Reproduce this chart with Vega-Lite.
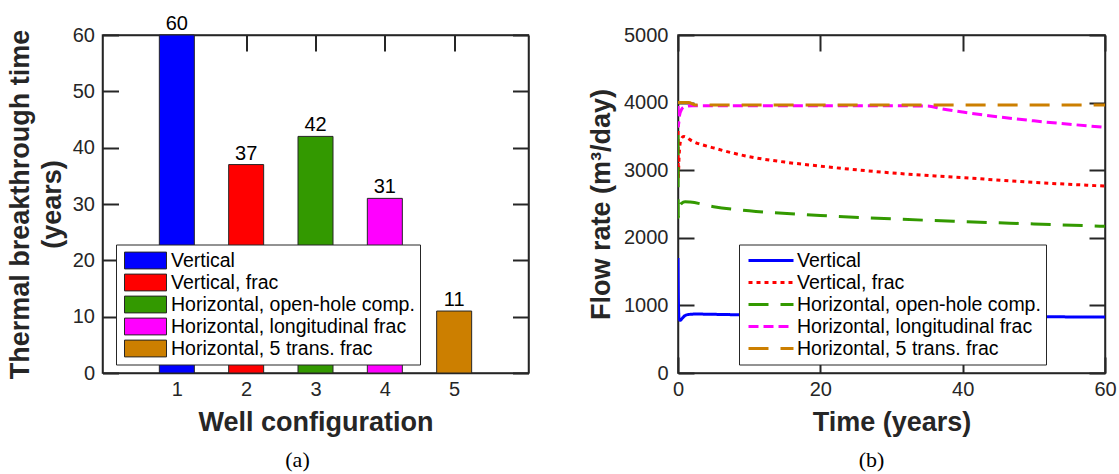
{
  "$schema": "https://vega.github.io/schema/vega-lite/v6.json",
  "padding": {"left": 5.5, "top": 13, "right": 5, "bottom": 0},
  "background": "white",
  "config": {
    "view": {"stroke": "#262626", "strokeWidth": 1.5},
    "font": "Liberation Sans",
    "axis": {"grid": false, "domainColor": "#262626", "domainWidth": 1.5, "labelFont": "Liberation Sans", "labelFontSize": 20, "labelColor": "#262626", "titleFont": "Liberation Sans", "titleFontSize": 27, "titleFontWeight": "bold", "titleColor": "#262626", "labelFlush": false, "labelOverlap": false, "format": "d"},
    "legend": {"labelFont": "Liberation Sans", "labelFontSize": 19.5, "labelColor": "black", "labelLimit": 400, "padding": 5, "strokeColor": "#262626", "fillColor": "white", "rowPadding": 0, "clipHeight": 22},
    "title": {"font": "Liberation Serif", "fontSize": 22, "fontWeight": "normal", "color": "black"}
  },
  "datasets": {
    "bars": [
      {"well": 1, "time": 60, "config": "Vertical"},
      {"well": 2, "time": 37, "config": "Vertical, frac"},
      {"well": 3, "time": 42, "config": "Horizontal, open-hole comp."},
      {"well": 4, "time": 31, "config": "Horizontal, longitudinal frac"},
      {"well": 5, "time": 11, "config": "Horizontal, 5 trans. frac"}
    ],
    "flow": [
      {"series": "Vertical", "t": 0, "q": 1700},
      {"series": "Vertical", "t": 0.05, "q": 1100},
      {"series": "Vertical", "t": 0.15, "q": 800},
      {"series": "Vertical", "t": 0.3, "q": 780},
      {"series": "Vertical", "t": 0.6, "q": 810},
      {"series": "Vertical", "t": 1, "q": 850},
      {"series": "Vertical", "t": 1.5, "q": 866},
      {"series": "Vertical", "t": 2.5, "q": 872},
      {"series": "Vertical", "t": 5, "q": 868},
      {"series": "Vertical", "t": 10, "q": 858},
      {"series": "Vertical", "t": 20, "q": 848},
      {"series": "Vertical", "t": 30, "q": 842},
      {"series": "Vertical", "t": 40, "q": 836},
      {"series": "Vertical", "t": 50, "q": 832},
      {"series": "Vertical", "t": 60, "q": 828},
      {"series": "Vertical, frac", "t": 0, "q": 3700},
      {"series": "Vertical, frac", "t": 0.03, "q": 2880},
      {"series": "Vertical, frac", "t": 0.15, "q": 3200},
      {"series": "Vertical, frac", "t": 0.4, "q": 3450},
      {"series": "Vertical, frac", "t": 0.8, "q": 3500},
      {"series": "Vertical, frac", "t": 2, "q": 3430},
      {"series": "Vertical, frac", "t": 5, "q": 3330},
      {"series": "Vertical, frac", "t": 10, "q": 3200},
      {"series": "Vertical, frac", "t": 15, "q": 3120},
      {"series": "Vertical, frac", "t": 20, "q": 3060},
      {"series": "Vertical, frac", "t": 30, "q": 2960},
      {"series": "Vertical, frac", "t": 40, "q": 2890},
      {"series": "Vertical, frac", "t": 50, "q": 2820},
      {"series": "Vertical, frac", "t": 60, "q": 2765},
      {"series": "Horizontal, open-hole comp.", "t": 0, "q": 3520},
      {"series": "Horizontal, open-hole comp.", "t": 0.03, "q": 2300},
      {"series": "Horizontal, open-hole comp.", "t": 0.2, "q": 2450},
      {"series": "Horizontal, open-hole comp.", "t": 0.5, "q": 2510},
      {"series": "Horizontal, open-hole comp.", "t": 1, "q": 2535},
      {"series": "Horizontal, open-hole comp.", "t": 1.7, "q": 2530},
      {"series": "Horizontal, open-hole comp.", "t": 5, "q": 2460},
      {"series": "Horizontal, open-hole comp.", "t": 10, "q": 2400},
      {"series": "Horizontal, open-hole comp.", "t": 20, "q": 2330},
      {"series": "Horizontal, open-hole comp.", "t": 30, "q": 2280},
      {"series": "Horizontal, open-hole comp.", "t": 40, "q": 2240},
      {"series": "Horizontal, open-hole comp.", "t": 50, "q": 2205},
      {"series": "Horizontal, open-hole comp.", "t": 60, "q": 2170},
      {"series": "Horizontal, longitudinal frac", "t": 0, "q": 3950},
      {"series": "Horizontal, longitudinal frac", "t": 0.05, "q": 3650},
      {"series": "Horizontal, longitudinal frac", "t": 0.2, "q": 3800},
      {"series": "Horizontal, longitudinal frac", "t": 0.5, "q": 3900},
      {"series": "Horizontal, longitudinal frac", "t": 1, "q": 3940},
      {"series": "Horizontal, longitudinal frac", "t": 2, "q": 3955},
      {"series": "Horizontal, longitudinal frac", "t": 20, "q": 3955},
      {"series": "Horizontal, longitudinal frac", "t": 35, "q": 3950},
      {"series": "Horizontal, longitudinal frac", "t": 37, "q": 3910},
      {"series": "Horizontal, longitudinal frac", "t": 40, "q": 3860},
      {"series": "Horizontal, longitudinal frac", "t": 45, "q": 3790},
      {"series": "Horizontal, longitudinal frac", "t": 50, "q": 3730},
      {"series": "Horizontal, longitudinal frac", "t": 55, "q": 3680},
      {"series": "Horizontal, longitudinal frac", "t": 60, "q": 3635},
      {"series": "Horizontal, 5 trans. frac", "t": 0, "q": 4000},
      {"series": "Horizontal, 5 trans. frac", "t": 1.5, "q": 4000},
      {"series": "Horizontal, 5 trans. frac", "t": 2.5, "q": 3965},
      {"series": "Horizontal, 5 trans. frac", "t": 30, "q": 3965},
      {"series": "Horizontal, 5 trans. frac", "t": 60, "q": 3965}
    ]
  },
  "spacing": 55.5,
  "resolve": {"scale": {"color": "independent", "strokeDash": "independent"}, "legend": {"color": "independent", "strokeDash": "independent"}},
  "hconcat": [
    {
      "width": 426,
      "height": 338,
      "title": {"text": "(a)", "orient": "bottom", "anchor": "middle", "frame": "group", "dx": -18, "offset": 15},
      "data": {"name": "bars"},
      "layer": [
        {
          "mark": {"type": "bar", "size": 35, "stroke": "#262626", "strokeWidth": 1},
          "encoding": {
            "x": {"field": "well", "type": "quantitative", "scale": {"domain": [0, 6], "nice": false}, "axis": {"orient": "bottom", "values": [1, 2, 3, 4, 5], "title": "Well configuration", "titlePadding": 10, "tickSize": -16, "tickColor": "#262626", "tickWidth": 2, "labelPadding": 22}},
            "y": {"field": "time", "type": "quantitative", "scale": {"domain": [0, 60], "nice": false}, "axis": {"orient": "left", "values": [0, 10, 20, 30, 40, 50, 60], "title": ["Thermal breakthrough time", "(years)"], "titlePadding": 6, "titleLineHeight": 32, "tickSize": -16, "tickColor": "#262626", "tickWidth": 2, "labelPadding": 24}},
            "color": {
              "field": "config", "type": "nominal",
              "scale": {"domain": ["Vertical", "Vertical, frac", "Horizontal, open-hole comp.", "Horizontal, longitudinal frac", "Horizontal, 5 trans. frac"], "range": ["#0000FF", "#FF0000", "#339900", "#FF00FF", "#CC7F00"]},
              "legend": {"title": null, "orient": "none", "legendX": 13.5, "legendY": 209.5, "direction": "vertical", "symbolType": "M-1,-0.4H1V0.4H-1Z", "symbolSize": 1764, "symbolStrokeColor": "#262626", "symbolStrokeWidth": 1, "symbolOpacity": 1, "labelOffset": 4, "symbolOffset": 3}
            }
          }
        },
        {
          "mark": {"type": "text", "baseline": "bottom", "dy": -1, "fontSize": 20, "color": "black"},
          "encoding": {
            "x": {"field": "well", "type": "quantitative", "axis": {"orient": "top", "labels": false, "title": null, "values": [1, 2, 3, 4, 5], "tickSize": -16, "tickColor": "#262626", "tickWidth": 2}},
            "y": {"field": "time", "type": "quantitative", "axis": {"orient": "right", "labels": false, "title": null, "values": [0, 10, 20, 30, 40, 50, 60], "tickSize": -16, "tickColor": "#262626", "tickWidth": 2}},
            "text": {"field": "time", "type": "quantitative"}
          }
        }
      ],
      "resolve": {"axis": {"x": "independent", "y": "independent"}}
    },
    {
      "width": 427,
      "height": 338,
      "title": {"text": "(b)", "orient": "bottom", "anchor": "middle", "frame": "group", "dx": -20, "offset": 15},
      "data": {"name": "flow"},
      "layer": [
        {
          "mark": {"type": "line", "strokeWidth": 3, "interpolate": "monotone", "clip": true},
          "encoding": {
            "x": {"field": "t", "type": "quantitative", "scale": {"domain": [0, 60], "nice": false}, "axis": {"orient": "bottom", "values": [0, 20, 40, 60], "title": "Time (years)", "titlePadding": 10, "tickSize": -16, "tickColor": "#262626", "tickWidth": 2, "labelPadding": 22}},
            "y": {"field": "q", "type": "quantitative", "scale": {"domain": [0, 5000], "nice": false}, "axis": {"orient": "left", "values": [0, 1000, 2000, 3000, 4000, 5000], "title": "Flow rate (m³/day)", "titlePadding": 8, "tickSize": -16, "tickColor": "#262626", "tickWidth": 2, "labelPadding": 26}},
            "color": {
              "field": "series", "type": "nominal",
              "scale": {"domain": ["Vertical", "Vertical, frac", "Horizontal, open-hole comp.", "Horizontal, longitudinal frac", "Horizontal, 5 trans. frac"], "range": ["#0000FF", "#FF0000", "#339900", "#FF00FF", "#CC7F00"]},
              "legend": {"title": null, "orient": "none", "legendX": 61, "legendY": 209.5, "direction": "vertical", "symbolType": "stroke", "symbolSize": 2025, "symbolStrokeWidth": 3, "labelOffset": 2, "symbolOffset": 3}
            },
            "strokeDash": {
              "field": "series", "type": "nominal",
              "scale": {"domain": ["Vertical", "Vertical, frac", "Horizontal, open-hole comp.", "Horizontal, longitudinal frac", "Horizontal, 5 trans. frac"], "range": [[1, 0], [4, 4], [20, 12], [10, 5], [20, 12]]},
              "legend": {"title": null, "orient": "none", "legendX": 61, "legendY": 209.5, "direction": "vertical", "symbolType": "stroke", "symbolSize": 2025, "symbolStrokeWidth": 3, "labelOffset": 2, "symbolOffset": 3}
            },
            "order": {"field": "t", "type": "quantitative"}
          }
        },
        {
          "mark": {"type": "point", "opacity": 0},
          "encoding": {
            "x": {"field": "t", "type": "quantitative", "axis": {"orient": "top", "labels": false, "title": null, "values": [0, 20, 40, 60], "tickSize": -16, "tickColor": "#262626", "tickWidth": 2}},
            "y": {"field": "q", "type": "quantitative", "axis": {"orient": "right", "labels": false, "title": null, "values": [0, 1000, 2000, 3000, 4000, 5000], "tickSize": -16, "tickColor": "#262626", "tickWidth": 2}}
          }
        }
      ],
      "resolve": {"axis": {"x": "independent", "y": "independent"}}
    }
  ]
}
